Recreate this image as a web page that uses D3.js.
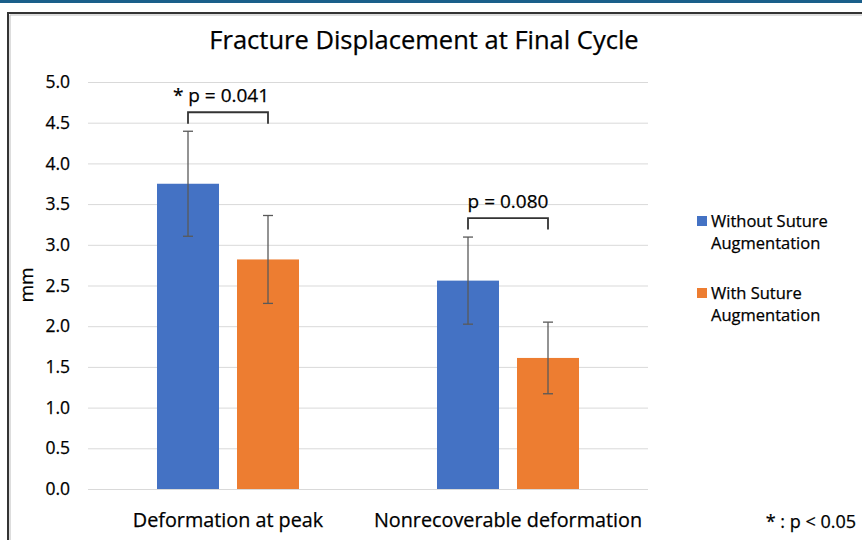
<!DOCTYPE html>
<html lang="en">
<head>
<meta charset="utf-8">
<title>Fracture Displacement at Final Cycle</title>
<script src="https://d3js.org/d3.v7.min.js"></script>
<style>
  body { margin: 0; background: #fff; }
  svg { display: block; font-family: "Open Sans", Lato, sans-serif; }
  .grid line { stroke: #d9d9d9; }
  .grid path { display: none; }
  .axis path, .axis line { display: none; }
  text { fill: #000; stroke: #000; stroke-width: 0.25; }
</style>
</head>
<body>
<svg width="862" height="540"></svg>
<script>
// data
var categories = ["Deformation at peak", "Nonrecoverable deformation"];
var seriesNames = ["Without Suture Augmentation", "With Suture Augmentation"];
var withoutMean = [3.75, 2.56];
var withoutErr  = [0.645, 0.535];
var withMean    = [2.82, 1.61];
var withErr     = [0.54, 0.44];
var yTicks = [0, 0.5, 1, 1.5, 2, 2.5, 3, 3.5, 4, 4.5, 5];
var pLabels = ["* p = 0.041", "p = 0.080"];
var colors = ["#4472c4", "#ed7d31"];

var svg = d3.select("svg");

// page chrome: top band and frame
svg.append("rect").attr("x", 0).attr("y", 0).attr("width", 862).attr("height", 3).attr("fill", "#1a5f8a");
svg.append("path").attr("d", "M8,540 V13 H862").attr("fill", "none").attr("stroke", "#333").attr("stroke-width", 2);
svg.append("path").attr("d", "M10,540 V15 H862").attr("fill", "none").attr("stroke", "#bbb").attr("stroke-width", 1);

var margin = {left: 88, right: 214, top: 82, bottom: 51};
var width = 862 - margin.left - margin.right,
    height = 540 - margin.top - margin.bottom;

var g = svg.append("g").attr("transform", "translate(" + margin.left + "," + margin.top + ")");

var x = d3.scaleBand().domain(categories).range([0, width]);
var inner = d3.scaleBand().domain([0, 1]).range([-71, 71]).paddingInner(0.225);
var y = d3.scaleLinear().domain([0, 5]).range([height, 0]);

g.append("g").attr("class", "grid")
  .call(d3.axisLeft(y).tickValues(yTicks).tickSize(-width).tickFormat(""));

g.append("g").attr("class", "axis")
  .call(d3.axisLeft(y).tickValues(yTicks).tickFormat(d3.format(".1f")).tickPadding(12))
  .selectAll("text").attr("font-size", 17.5).attr("font-family", "Open Sans, sans-serif");

var rows = categories.map(function(c, i) {
  return [
    {cat: c, s: 0, v: withoutMean[i], e: withoutErr[i]},
    {cat: c, s: 1, v: withMean[i], e: withErr[i]}
  ];
});
var flat = [].concat.apply([], rows);

function cx(d) { return x(d.cat) + x.bandwidth() / 2 + inner(d.s) + inner.bandwidth() / 2; }

g.selectAll(".bar").data(flat).enter().append("rect")
  .attr("x", function(d) { return x(d.cat) + x.bandwidth() / 2 + inner(d.s); })
  .attr("y", function(d) { return y(d.v); })
  .attr("width", inner.bandwidth())
  .attr("height", function(d) { return height - y(d.v); })
  .attr("fill", function(d) { return colors[d.s]; });

// error bars
var eb = g.selectAll(".err").data(flat).enter().append("g").attr("stroke", "#595959").attr("stroke-width", 1.3);
eb.append("line").attr("x1", cx).attr("x2", cx)
  .attr("y1", function(d) { return y(d.v + d.e); }).attr("y2", function(d) { return y(d.v - d.e); });
eb.append("line").attr("x1", function(d) { return cx(d) - 5; }).attr("x2", function(d) { return cx(d) + 5; })
  .attr("y1", function(d) { return y(d.v + d.e); }).attr("y2", function(d) { return y(d.v + d.e); });
eb.append("line").attr("x1", function(d) { return cx(d) - 5; }).attr("x2", function(d) { return cx(d) + 5; })
  .attr("y1", function(d) { return y(d.v - d.e); }).attr("y2", function(d) { return y(d.v - d.e); });

// significance brackets
rows.forEach(function(r, i) {
  var top = d3.max(r, function(d) { return d.v + d.e; });
  var yb = y(top) - 19;
  var x1 = cx(r[0]), x2 = cx(r[1]);
  g.append("path")
    .attr("d", "M" + x1 + "," + (yb + 11.5) + " V" + yb + " H" + x2 + " V" + (yb + 11.5))
    .attr("fill", "none").attr("stroke", "#333").attr("stroke-width", 1.8);
  g.append("text").attr("x", (x1 + x2) / 2 - (i === 0 ? 7 : 0)).attr("y", yb - 10)
    .attr("text-anchor", "middle").attr("font-size", 19)
    .text(pLabels[i]);
});

// x labels
g.selectAll(".xl").data(categories).enter().append("text")
  .attr("x", function(d) { return x(d) + x.bandwidth() / 2; })
  .attr("y", height + 38)
  .attr("text-anchor", "middle").attr("font-size", 19.8)
  .text(function(d) { return d; });

// y title
svg.append("text").attr("transform", "translate(33,285) rotate(-90)")
  .attr("text-anchor", "middle").attr("font-size", 19).text("mm");

// title
svg.append("text").attr("x", 424).attr("y", 49).attr("text-anchor", "middle")
  .attr("font-size", 25.5).text("Fracture Displacement at Final Cycle");

// legend
var legendLines = [["Without Suture", "Augmentation"], ["With Suture", "Augmentation"]];
var lg = svg.append("g").attr("transform", "translate(697,212)");
seriesNames.forEach(function(s, i) {
  var it = lg.append("g").attr("transform", "translate(0," + (i * 72) + ")");
  it.append("rect").attr("x", 0).attr("y", 4).attr("width", 10).attr("height", 10).attr("fill", colors[i]);
  it.append("text").attr("x", 14).attr("y", 15).attr("font-size", 16.5)
    .selectAll("tspan").data(legendLines[i]).enter().append("tspan")
    .attr("x", 14).attr("dy", function(d, j) { return j ? 22 : 0; })
    .text(function(d) { return d; });
});

// footnote
svg.append("text").attr("x", 856).attr("y", 528).attr("text-anchor", "end")
  .attr("font-size", 18).text("* : p < 0.05");
</script>
</body>
</html>
